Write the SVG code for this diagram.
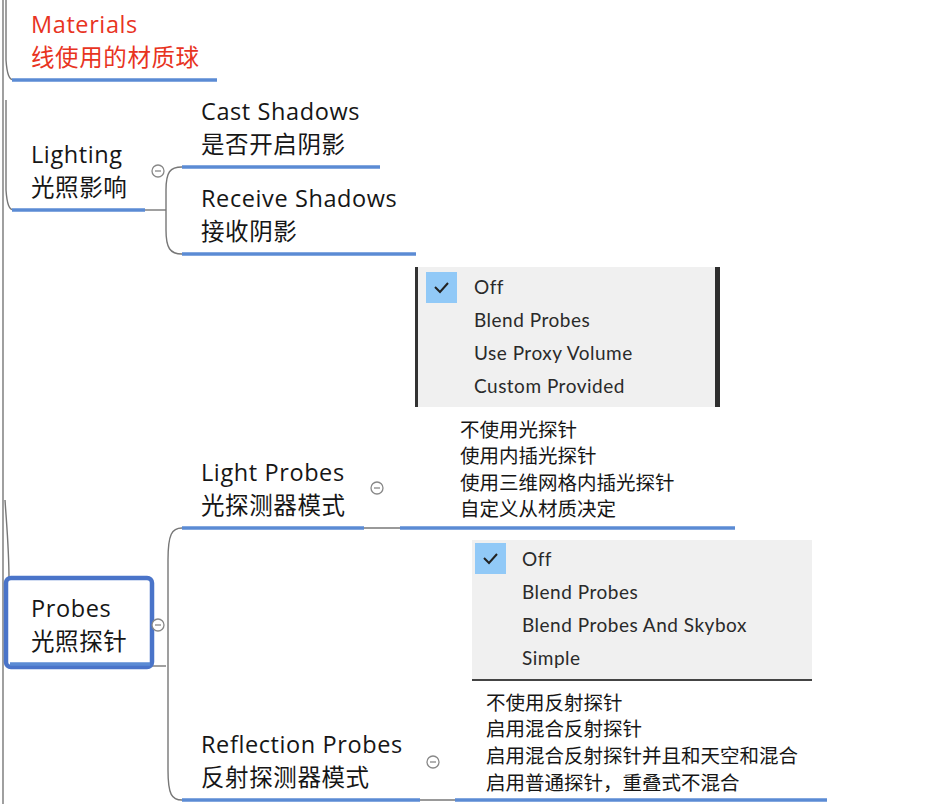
<svg xmlns="http://www.w3.org/2000/svg" width="928" height="804" viewBox="0 0 928 804">
<style>
.t{font-family:"Open Sans","Noto Sans CJK SC",sans-serif;font-size:23.5px;letter-spacing:0.6px;fill:#161616}
.red{fill:#e8341f}
.dd{font-family:Lato,"Open Sans",sans-serif;font-size:19px;letter-spacing:0.5px;fill:#2a2a2a}
.cn{font-family:"Noto Sans CJK SC",sans-serif;font-size:19.5px;fill:#161616}
.ul{stroke:#5b8bd4;stroke-width:3.5;fill:none}
.cw{stroke:#777;stroke-width:1.4;fill:none}
.col{fill:#fff;stroke:#888;stroke-width:1.3}
.colm{stroke:#888;stroke-width:1.3}
</style>
<rect width="928" height="804" fill="#fff"/>
<g id="connectors">
  <path class="cw" d="M3,0 V804"/>
  <path class="cw" d="M6,0 V60 C7,74 9,80 14,80"/>
  <path class="cw" d="M6,100 V190 C7,204 9,210 14,210"/>
  <path class="cw" d="M5,500 C7,530 9,550 9,580"/>
  <path class="cw" d="M145,210 H166"/>
  <path class="cw" d="M182,167 C170,167 166,172 166,190 V230 C166,248 170,254 182,254"/>
  <path class="cw" d="M152,666 H166"/>
  <path class="cw" d="M182,528 C172,528 168,534 168,560 V770 C168,795 172,800 182,800"/>
  <path class="cw" d="M364,528 H400"/>
  <path class="cw" d="M420,800 H455"/>
</g>
<g id="materials">
  <text class="t red" x="31" y="33">Materials</text>
  <text class="t red" x="31" y="66">线使用的材质球</text>
  <path class="ul" d="M12,80 H217"/>
</g>
<g id="lighting">
  <text class="t" x="31" y="163">Lighting</text>
  <text class="t" x="31" y="196">光照影响</text>
  <path class="ul" d="M12,210 H145"/>
  <circle class="col" cx="158" cy="171" r="6"/>
  <path class="colm" d="M155,171 H161"/>
</g>
<g id="cast-shadows">
  <text class="t" x="201" y="120">Cast Shadows</text>
  <text class="t" x="201" y="153">是否开启阴影</text>
  <path class="ul" d="M182,167 H380"/>
</g>
<g id="receive-shadows">
  <text class="t" x="201" y="207">Receive Shadows</text>
  <text class="t" x="201" y="240">接收阴影</text>
  <path class="ul" d="M182,254 H416"/>
</g>
<g id="light-probes-menu">
  <rect x="415" y="267" width="305" height="140" fill="#f0f0f0"/>
  <rect x="415" y="267" width="3" height="140" fill="#333"/>
  <rect x="715" y="267" width="5" height="140" fill="#2e2e2e"/>
  <rect x="426" y="272" width="31" height="31" fill="#91c9f7"/>
  <path d="M435,287 L440,292 L448,283" stroke="#222" stroke-width="2" fill="none"/>
  <text class="dd" x="474" y="294">Off</text>
  <text class="dd" x="474" y="327">Blend Probes</text>
  <text class="dd" x="474" y="360">Use Proxy Volume</text>
  <text class="dd" x="474" y="393">Custom Provided</text>
</g>
<g id="light-probes-notes">
  <text class="cn" x="460" y="437">不使用光探针</text>
  <text class="cn" x="460" y="463">使用内插光探针</text>
  <text class="cn" x="460" y="490">使用三维网格内插光探针</text>
  <text class="cn" x="460" y="516">自定义从材质决定</text>
  <path class="ul" d="M400,528 H735"/>
</g>
<g id="light-probes">
  <text class="t" x="201" y="481">Light Probes</text>
  <text class="t" x="201" y="514">光探测器模式</text>
  <path class="ul" d="M182,528 H364"/>
  <circle class="col" cx="377" cy="488" r="6"/>
  <path class="colm" d="M374,488 H380"/>
</g>
<g id="probes">
  <rect x="6" y="578" width="146" height="89" rx="5" fill="none" stroke="#4a74c9" stroke-width="4.5"/>
  <path class="ul" d="M10,664 H150"/>
  <text class="t" x="31" y="617">Probes</text>
  <text class="t" x="31" y="650">光照探针</text>
  <circle class="col" cx="158" cy="625" r="6"/>
  <path class="colm" d="M155,625 H161"/>
</g>
<g id="reflection-probes-menu">
  <rect x="472" y="540" width="340" height="140" fill="#f0f0f0"/>
  <rect x="472" y="679" width="340" height="2" fill="#444"/>
  <rect x="475" y="543" width="31" height="31" fill="#91c9f7"/>
  <path d="M484,558 L489,563 L497,554" stroke="#222" stroke-width="2" fill="none"/>
  <text class="dd" x="522" y="566">Off</text>
  <text class="dd" x="522" y="599">Blend Probes</text>
  <text class="dd" x="522" y="632">Blend Probes And Skybox</text>
  <text class="dd" x="522" y="665">Simple</text>
</g>
<g id="reflection-probes-notes">
  <text class="cn" x="486" y="710">不使用反射探针</text>
  <text class="cn" x="486" y="736">启用混合反射探针</text>
  <text class="cn" x="486" y="763">启用混合反射探针并且和天空和混合</text>
  <text class="cn" x="486" y="790">启用普通探针，重叠式不混合</text>
  <path class="ul" d="M455,800 H827"/>
</g>
<g id="reflection-probes">
  <text class="t" x="201" y="753">Reflection Probes</text>
  <text class="t" x="201" y="786">反射探测器模式</text>
  <path class="ul" d="M182,800 H420"/>
  <circle class="col" cx="433" cy="762" r="6"/>
  <path class="colm" d="M430,762 H436"/>
</g>
</svg>
